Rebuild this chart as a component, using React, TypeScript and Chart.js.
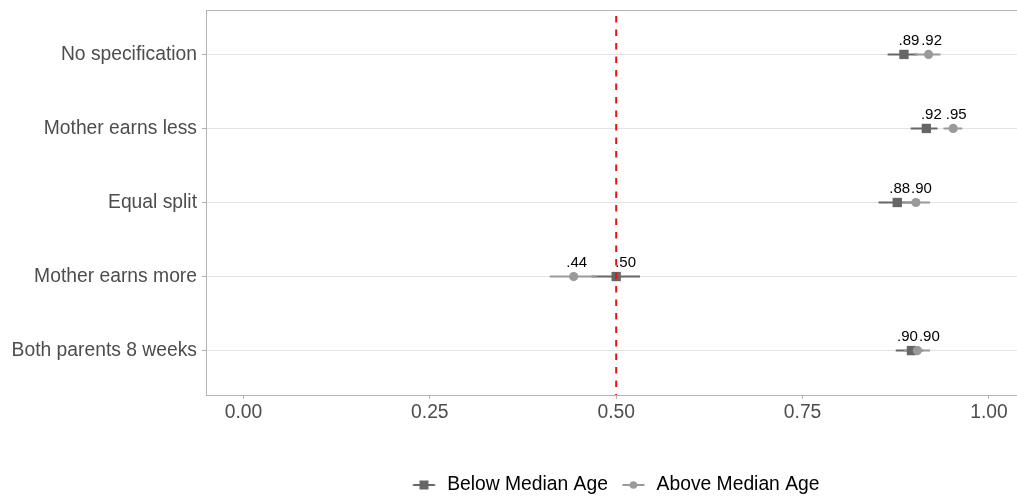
import React, { useEffect, useRef } from 'react';
import { Chart, registerables } from 'chart.js';

Chart.register(...registerables);

// ---- data ----
const categories = [
  'No specification',
  'Mother earns less',
  'Equal split',
  'Mother earns more',
  'Both parents 8 weeks',
];
const seriesNames = ['Below Median Age', 'Above Median Age'];
const belowEst = [0.886, 0.916, 0.877, 0.5, 0.896];
const belowLo = [0.864, 0.895, 0.852, 0.467, 0.875];
const belowHi = [0.904, 0.931, 0.899, 0.532, 0.912];
const aboveEst = [0.919, 0.952, 0.902, 0.443, 0.904];
const aboveLo = [0.9, 0.939, 0.884, 0.411, 0.886];
const aboveHi = [0.935, 0.964, 0.921, 0.474, 0.921];
const xTicks = [0, 0.25, 0.5, 0.75, 1];
const refValue = 0.5;

// ---- styles ----
const FONT = '"Liberation Sans", Arial, Helvetica, sans-serif';
const FS = 19.3;
const DARK = '#666666';
const LIGHT = '#9a9a9a';
const AXIS = '#b3b3b3';
const GRID = '#e3e3e3';
const TEXT = '#4d4d4d';

const fmt = (v: number) => v.toFixed(2).replace(/^0/, '');

const pts = (vals: number[]) => vals.map((v, i) => ({ x: v, y: i + 1 }));
const ciData = (lo: number[], hi: number[]) =>
  lo.flatMap((l, i) => [
    { x: l, y: i + 1 },
    { x: hi[i], y: i + 1 },
    { x: null, y: null },
  ]);

const ICON_W = 34;
function makeIcon(color: string, kind: 'rect' | 'circle') {
  const c = document.createElement('canvas');
  c.width = ICON_W;
  c.height = 12;
  const g = c.getContext('2d')!;
  const cx = 20.5;
  g.strokeStyle = color;
  g.lineWidth = 2;
  g.beginPath();
  g.moveTo(cx - 11, 6);
  g.lineTo(cx + 11, 6);
  g.stroke();
  g.fillStyle = color;
  if (kind === 'rect') {
    g.fillRect(cx - 4.5, 1.5, 9, 9);
  } else {
    g.beginPath();
    g.arc(cx, 6, 3.8, 0, Math.PI * 2);
    g.fill();
  }
  return c;
}

const zeroPad = (s: any) => {
  s.paddingLeft = 0;
  s.paddingRight = 0;
  s.paddingTop = 0;
  s.paddingBottom = 0;
};

const overlayPlugin = {
  id: 'overlay',
  afterDatasetsDraw(chart: any) {
    const { ctx, chartArea } = chart;
    const xs = chart.scales.x;
    // reference line
    const rx = xs.getPixelForValue(refValue);
    ctx.save();
    ctx.strokeStyle = '#f01010';
    ctx.lineWidth = 2;
    ctx.setLineDash([6.5, 7]);
    ctx.lineDashOffset = 7.5;
    ctx.beginPath();
    ctx.moveTo(rx, chartArea.top);
    ctx.lineTo(rx, chartArea.bottom);
    ctx.stroke();
    ctx.restore();

    // value labels (simple repel: from each other and from the reference line)
    ctx.save();
    ctx.font = `15px ${FONT}`;
    ctx.fillStyle = '#000';
    ctx.textAlign = 'center';
    ctx.textBaseline = 'middle';
    const m0 = chart.getDatasetMeta(0);
    const m1 = chart.getDatasetMeta(1);
    categories.forEach((_, i) => {
      const p0 = m0.data[i];
      const p1 = m1.data[i];
      const t0 = fmt(belowEst[i]);
      const t1 = fmt(aboveEst[i]);
      const w0 = ctx.measureText(t0).width;
      const w1 = ctx.measureText(t1).width;
      let x0 = p0.x + 5;
      let x1 = p1.x + 3;
      const w = (w0 + w1) / 2 + 1;
      const d = x1 - x0;
      if (Math.abs(d) < w) {
        const mid = (x0 + x1) / 2;
        const s = d >= 0 ? 1 : -1;
        x0 = mid - (s * w) / 2;
        x1 = mid + (s * w) / 2;
      }
      if (Math.abs(x0 - rx) < w0 / 2) x0 = rx - 1 + w0 / 2;
      if (Math.abs(x1 - rx) < w1 / 2) x1 = rx - 1 + w1 / 2;
      ctx.fillText(t0, x0, p0.y - 14);
      ctx.fillText(t1, x1, p1.y - 14);
    });
    ctx.restore();
  },
};

export default function App() {
  const ref = useRef<HTMLCanvasElement | null>(null);

  useEffect(() => {
    document.body.style.margin = '0';
    const canvas = ref.current;
    if (!canvas) return;
    const icons = [makeIcon(DARK, 'rect'), makeIcon(LIGHT, 'circle')];

    const chart = new Chart(canvas, {
      type: 'scatter',
      data: {
        datasets: [
          {
            label: seriesNames[0],
            data: pts(belowEst),
            pointStyle: 'rect',
            pointRadius: 6.6,
            backgroundColor: DARK,
            borderColor: DARK,
            pointBorderWidth: 0,
            order: 1,
          },
          {
            label: seriesNames[1],
            data: pts(aboveEst),
            pointStyle: 'circle',
            pointRadius: 4.6,
            backgroundColor: LIGHT,
            borderColor: LIGHT,
            pointBorderWidth: 0,
            order: 0,
          },
          {
            label: seriesNames[0] + ' CI',
            data: ciData(belowLo, belowHi) as any,
            showLine: true,
            spanGaps: false,
            pointRadius: 0,
            borderColor: DARK,
            borderWidth: 2,
            order: 3,
          },
          {
            label: seriesNames[1] + ' CI',
            data: ciData(aboveLo, aboveHi) as any,
            showLine: true,
            spanGaps: false,
            pointRadius: 0,
            borderColor: LIGHT,
            borderWidth: 2,
            order: 2,
          },
        ],
      },
      options: {
        animation: false,
        responsive: false,
        events: [],
        layout: { autoPadding: false, padding: { top: 10, left: 0, right: 0, bottom: -5.65 } },
        scales: {
          x: {
            type: 'linear',
            position: 'bottom',
            min: -0.0502,
            max: 1.0376,
            afterBuildTicks: (s: any) => {
              s.ticks = xTicks.map((v) => ({ value: v }));
            },
            afterFit: (s: any) => {
              s.height = 75.35;
              zeroPad(s);
            },
            ticks: {
              callback: (v: any) => Number(v).toFixed(2),
              font: { family: FONT, size: FS },
              color: TEXT,
              padding: 2,
              maxRotation: 0,
              autoSkip: false,
            },
            grid: {
              drawOnChartArea: false,
              drawTicks: true,
              tickLength: 4,
              tickColor: AXIS,
              tickWidth: 1,
            },
            border: { display: true, color: AXIS, width: 1 },
          },
          xTop: {
            type: 'linear',
            position: 'top',
            min: -0.0502,
            max: 1.0376,
            ticks: { display: false },
            grid: { display: false },
            border: { display: true, color: AXIS, width: 1 },
            afterFit: (s: any) => {
              s.height = 0;
              zeroPad(s);
            },
          },
          y: {
            type: 'linear',
            position: 'left',
            reverse: true,
            min: 0.4,
            max: 5.6,
            afterBuildTicks: (s: any) => {
              s.ticks = categories.map((_, i) => ({ value: i + 1 }));
            },
            afterFit: (s: any) => {
              s.width = 206;
              zeroPad(s);
            },
            ticks: {
              callback: (v: any) => categories[Number(v) - 1],
              font: { family: FONT, size: FS },
              color: TEXT,
              padding: 5,
              autoSkip: false,
            },
            grid: {
              color: GRID,
              lineWidth: 1,
              drawTicks: true,
              tickLength: 4,
              tickColor: AXIS,
            },
            border: { display: true, color: AXIS, width: 1 },
          },
        },
        plugins: {
          tooltip: { enabled: false },
          legend: {
            display: true,
            position: 'bottom',
            fullSize: false,
            labels: {
              usePointStyle: true,
              pointStyleWidth: ICON_W,
              padding: 5,
              font: { family: FONT, size: FS },
              color: '#000',
              generateLabels: () =>
                seriesNames.map((name, i) => ({
                  text: name,
                  pointStyle: icons[i],
                  fillStyle: 'transparent',
                  strokeStyle: 'transparent',
                  lineWidth: 0,
                  hidden: false,
                  datasetIndex: i,
                  fontColor: '#000',
                })) as any,
            },
          },
        },
      } as any,
      plugins: [overlayPlugin],
    });

    return () => chart.destroy();
  }, []);

  return (
    <div style={{ position: 'absolute', left: 0, top: 0, width: 1017, height: 499, overflow: 'hidden' }}>
      <canvas ref={ref} width={1017} height={499} style={{ display: 'block' }} />
    </div>
  );
}
